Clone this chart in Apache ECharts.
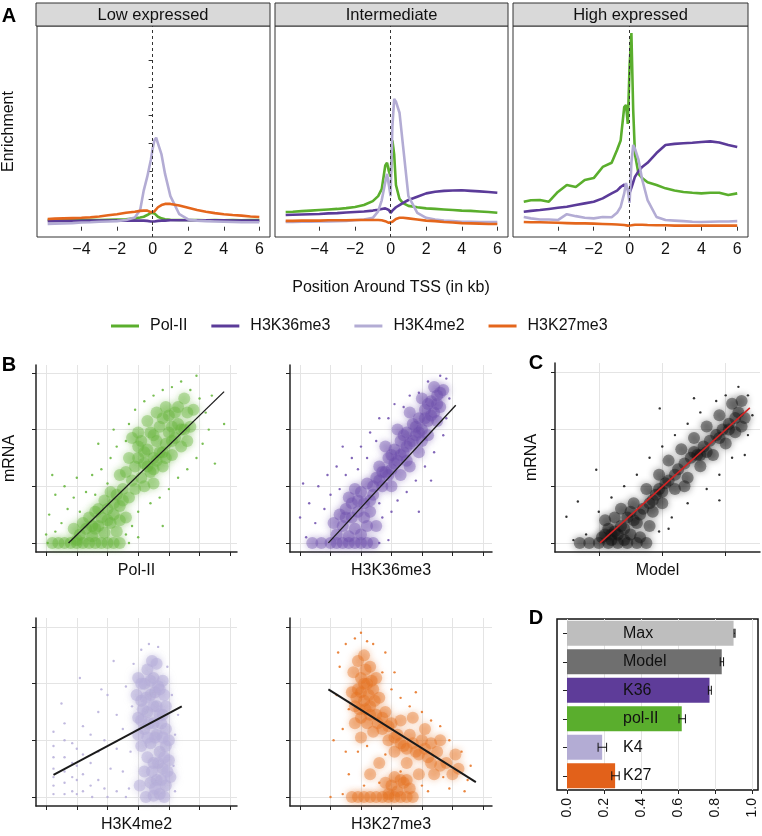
<!DOCTYPE html>
<html><head><meta charset="utf-8">
<script src="https://cdn.jsdelivr.net/npm/echarts@6/dist/echarts.min.js"></script>
<style>html,body{margin:0;padding:0;background:#fff}#c{width:762px;height:836px}</style>
</head><body><div id="c"></div>
<script>
const FONT = "'Liberation Sans', Arial, Helvetica, sans-serif";

// ---------- Panel A: enrichment profiles around the TSS ----------
const panelTitles = ['Low expressed', 'Intermediate', 'High expressed'];
const seriesNames = ['Pol-II', 'H3K36me3', 'H3K4me2', 'H3K27me3'];
const tssX = [-5.9,-5.5,-5,-4.5,-4,-3.5,-3,-2.5,-2,-1.5,-1,-0.7,-0.5,-0.3,-0.2,-0.1,0,0.1,0.2,0.3,0.5,0.7,1,1.5,2,2.5,3,3.5,4,4.5,5,5.5,6];
const tssTicks = [-4,-2,0,2,4,6];
const enrichTicks = [1,2,3,4,5,6];

const polLow = [0.24,0.24,0.25,0.24,0.25,0.25,0.24,0.25,0.26,0.27,0.3,0.33,0.36,0.42,0.46,0.5,0.53,0.48,0.42,0.36,0.3,0.27,0.25,0.24,0.24,0.24,0.23,0.24,0.23,0.24,0.23,0.24,0.24];
const k36Low = [0.2,0.2,0.21,0.21,0.21,0.22,0.22,0.22,0.22,0.22,0.22,0.22,0.22,0.21,0.2,0.19,0.18,0.19,0.2,0.21,0.22,0.22,0.23,0.23,0.23,0.23,0.23,0.23,0.23,0.22,0.22,0.22,0.22];
const k4Low = [0.1,0.11,0.12,0.13,0.15,0.16,0.18,0.19,0.2,0.24,0.33,0.6,1.3,1.8,2.1,2.4,2.8,3.1,3.2,3.0,2.6,1.9,1.1,0.45,0.26,0.22,0.2,0.19,0.18,0.17,0.16,0.16,0.16];
const orgLow = [0.28,0.29,0.3,0.31,0.32,0.34,0.37,0.41,0.45,0.5,0.54,0.57,0.58,0.58,0.55,0.52,0.5,0.55,0.62,0.7,0.78,0.82,0.82,0.76,0.68,0.6,0.54,0.49,0.45,0.42,0.4,0.37,0.35];

const polMid = [0.53,0.54,0.56,0.58,0.6,0.62,0.64,0.67,0.71,0.78,0.92,1.1,1.35,2.2,2.3,2.0,1.8,3.1,2.6,1.5,1.0,0.85,0.75,0.7,0.66,0.64,0.62,0.6,0.58,0.57,0.55,0.53,0.5];
const k36Mid = [0.42,0.43,0.44,0.45,0.46,0.48,0.49,0.51,0.53,0.55,0.58,0.61,0.64,0.66,0.64,0.6,0.5,0.58,0.65,0.7,0.78,0.86,0.96,1.08,1.2,1.26,1.29,1.3,1.31,1.29,1.27,1.25,1.22];
const k4Mid = [0.17,0.17,0.18,0.18,0.19,0.19,0.2,0.21,0.23,0.26,0.32,0.55,0.95,1.6,1.9,1.5,1.1,3.6,4.6,4.5,4.1,2.9,1.1,0.5,0.32,0.26,0.22,0.2,0.18,0.18,0.17,0.17,0.17];
const orgMid = [0.21,0.21,0.22,0.22,0.22,0.23,0.23,0.23,0.24,0.24,0.24,0.24,0.23,0.2,0.17,0.14,0.12,0.18,0.24,0.28,0.32,0.32,0.3,0.26,0.22,0.2,0.17,0.15,0.13,0.12,0.11,0.1,0.1];

const polHigh = [0.9,0.95,0.96,0.9,1.25,1.5,1.43,1.68,1.75,2.15,2.3,2.76,3.1,4.3,4.38,3.7,5.8,6.97,4.2,2.6,1.9,1.75,1.6,1.5,1.38,1.3,1.25,1.22,1.2,1.22,1.22,1.14,1.2];
const k36High = [0.54,0.57,0.6,0.64,0.68,0.72,0.78,0.84,0.9,1.02,1.2,1.3,1.43,1.52,1.5,1.35,1.22,1.4,1.6,1.8,2.0,2.15,2.3,2.65,2.94,2.98,3.0,3.02,3.05,3.07,3.03,2.94,2.87];
const k4High = [0.35,0.3,0.26,0.26,0.24,0.45,0.38,0.32,0.3,0.35,0.34,0.5,0.71,1.2,1.57,1.3,0.86,2.3,2.94,2.8,2.4,1.7,0.96,0.35,0.24,0.22,0.2,0.18,0.17,0.18,0.19,0.19,0.2];
const orgHigh = [0.17,0.16,0.16,0.15,0.14,0.13,0.12,0.12,0.11,0.1,0.09,0.08,0.07,0.06,0.05,0.04,0.03,0.05,0.06,0.07,0.07,0.07,0.06,0.05,0.05,0.04,0.04,0.04,0.04,0.04,0.04,0.04,0.04];

// ---------- Panel B / C: mRNA vs marks (estimated cloud points) ----------
const scatterXTicks = [0,1,2,3,4,5,6];
const scatterYTicks = [0,1,2,3];
const modelXTicks = [0,1,2];

const polCore = [[0.2,0],[0.4,0],[0.6,0],[0.8,0],[1.0,0],[1.2,0],[1.4,0],[1.6,0],[1.8,0],[2.0,0],[2.2,0],[2.4,0],[1.1,0.15],[1.3,0.25],[1.5,0.12],[1.7,0.3],[1.9,0.18],[2.1,0.35],[2.3,0.2],[1.4,0.45],[1.6,0.55],[1.8,0.45],[2.0,0.6],[2.2,0.5],[2.4,0.65],[1.2,0.35],[0.9,0.25],[2.6,0.45],[1.9,0.75],[2.3,0.85],[2.5,0.95],[2.7,0.8],[2.8,1.1],[2.6,1.25],[2.9,1.35],[3.1,1.15],[3.0,1.5],[3.2,1.4],[3.3,1.65],[3.1,1.8],[3.4,1.25],[3.5,1.5],[3.6,1.8],[3.4,1.95],[3.7,1.6],[3.8,1.35],[3.9,1.75],[3.7,2.05],[4.0,1.95],[4.1,1.55],[4.2,1.85],[4.0,2.25],[4.3,2.1],[4.4,1.7],[4.5,2.0],[4.3,2.4],[4.6,2.3],[4.7,2.05],[3.3,2.15],[3.0,1.95],[3.6,2.3],[2.9,0.95],[3.2,1.0],[4.8,2.35],[4.5,2.55],[3.9,2.4],[2.4,1.2],[3.5,1.05],[1.0,0.05],[1.5,0.3],[1.7,0.6],[2.1,0.9],[2.5,0.75],[2.7,1.5],[2.8,1.85],[3.0,1.7],[3.2,1.6],[3.3,1.35],[3.5,1.3],[3.5,1.9],[3.6,1.45],[3.8,1.6],[3.8,2.2],[4.1,2.05],[4.2,2.3],[4.4,2.0],[4.6,1.8],[4.1,1.8],[3.9,1.5],[2.2,0.7],[2.0,0.4],[1.6,0.25],[2.4,0.4]];
const polSpread = [[0.0,0.15],[0.1,0.5],[0.3,0.85],[0.2,1.2],[0.5,0.35],[0.7,0.6],[0.6,1.0],[0.9,0.8],[1.0,1.15],[1.1,0.55],[1.3,0.9],[1.5,1.2],[1.6,0.85],[1.8,1.3],[2.0,1.05],[2.1,1.5],[2.3,1.7],[2.2,2.0],[2.6,1.8],[2.7,2.1],[2.9,2.35],[3.2,2.5],[3.5,2.6],[3.8,2.7],[4.1,2.75],[4.4,2.85],[4.7,2.7],[5.0,2.55],[5.2,2.3],[5.3,2.0],[5.1,1.75],[4.9,1.5],[4.6,1.3],[4.3,1.15],[4.0,0.95],[3.7,0.8],[3.4,0.7],[3.0,0.55],[2.8,0.3],[2.6,0.15],[2.7,0.0],[3.0,0.1],[5.5,1.4],[5.8,2.1],[4.9,2.95],[0.05,0.0],[0.3,0.2],[1.7,1.75],[5.4,2.6],[3.8,0.3]];
const polFit = [[0.73,0],[5.8,2.67]];

const k36Core = [[0.4,0],[0.7,0],[1.0,0],[1.2,0],[1.4,0],[1.6,0],[1.8,0],[2.0,0],[2.2,0],[2.4,0],[1.2,0.15],[1.4,0.3],[1.6,0.12],[1.8,0.25],[2.0,0.15],[2.2,0.3],[1.3,0.5],[1.5,0.6],[1.7,0.45],[1.9,0.55],[2.1,0.7],[2.3,0.55],[1.6,0.8],[1.8,0.95],[2.0,0.9],[2.2,1.05],[2.4,0.85],[1.1,0.35],[2.5,0.3],[2.5,1.15],[2.7,1.0],[2.6,1.35],[2.8,1.25],[2.9,1.5],[3.0,1.3],[3.1,1.65],[3.2,1.45],[3.3,1.8],[3.4,1.6],[3.5,1.95],[3.6,1.75],[3.7,2.1],[3.8,1.9],[3.9,2.2],[4.0,2.0],[4.1,2.35],[4.2,2.15],[4.3,2.5],[4.4,2.3],[4.5,2.6],[4.6,2.4],[4.7,2.7],[4.5,2.15],[4.2,1.9],[3.9,1.6],[3.6,1.35],[3.3,1.2],[3.0,1.0],[2.8,1.7],[3.2,2.0],[3.6,2.3],[4.0,2.55],[4.4,2.75],[1.5,0.45],[1.7,0.7],[1.9,0.75],[2.1,0.45],[2.3,0.75],[2.4,1.0],[2.6,1.1],[2.7,1.25],[2.9,1.2],[3.0,1.55],[3.1,1.4],[3.3,1.55],[3.4,1.9],[3.5,1.7],[3.7,1.8],[3.8,2.05],[3.9,1.95],[4.1,2.2],[4.2,2.45],[4.3,2.25],[4.5,2.45],[4.6,2.65],[3.5,1.45],[4.0,1.8]];
const k36Spread = [[0.0,0.45],[0.2,0.1],[0.3,0.7],[0.5,0.35],[0.6,1.0],[0.8,0.6],[0.9,1.2],[1.0,0.85],[1.2,1.35],[1.3,0.95],[1.5,1.2],[1.7,1.5],[1.9,1.3],[2.0,1.7],[2.2,1.5],[2.3,1.95],[2.5,1.8],[2.6,2.2],[2.9,2.2],[3.1,2.45],[3.4,2.4],[3.6,2.6],[3.9,2.65],[4.2,2.85],[4.6,2.95],[4.8,2.9],[4.9,2.55],[4.8,2.2],[4.7,1.9],[4.4,1.6],[4.1,1.35],[3.8,1.1],[3.5,0.9],[3.2,0.75],[3.0,0.55],[2.7,0.45],[2.6,0.7],[3.9,0.55],[2.9,0.05],[2.6,0.0],[0.1,1.05],[4.3,1.1],[1.4,1.7]];
const k36Fit = [[0.93,0],[5.11,2.43]];

const k4Core = [[3.0,1.4],[3.1,1.7],[3.2,2.0],[3.3,1.5],[3.4,1.8],[3.5,2.1],[3.6,1.6],[3.7,1.9],[3.3,2.25],[3.5,1.3],[3.8,1.45],[3.2,1.2],[3.6,1.1],[3.9,1.2],[3.4,0.95],[3.7,0.8],[3.9,0.9],[3.5,0.6],[3.8,0.5],[4.0,0.65],[3.6,0.3],[3.9,0.2],[3.4,0.25],[3.7,0.05],[3.1,0.9],[2.95,1.8],[3.0,2.1],[3.8,2.05],[3.45,2.4],[3.6,2.35],[3.2,0.45],[4.0,1.0],[3.0,1.1],[3.5,0.02],[3.25,0.0],[3.85,0.0],[3.3,0.7],[3.75,1.3],[3.15,1.55],[3.55,1.85],[3.9,1.6],[4.05,0.35],[3.05,0.2],[3.1,1.35],[3.25,1.75],[3.4,2.05],[3.5,1.6],[3.65,1.95],[3.7,1.45],[3.35,1.3],[3.55,1.05],[3.8,1.05],[3.65,0.6],[3.85,0.7],[3.45,0.45],[3.75,0.3],[3.55,0.15],[3.95,0.45],[3.3,1.05],[3.85,1.8],[3.1,2.0]];
const k4Spread = [[0.24,0.05],[0.24,0.2],[0.24,0.35],[0.24,0.5],[0.24,0.7],[0.24,0.9],[0.24,1.15],[0.6,0.05],[0.6,0.25],[0.6,0.45],[0.6,0.7],[0.6,1.0],[0.6,1.3],[0.85,0.1],[0.85,0.35],[0.85,0.6],[0.85,0.95],[1.0,0.05],[1.0,0.3],[1.0,0.55],[1.0,0.85],[1.2,0.1],[1.2,0.4],[1.2,0.75],[1.2,1.25],[1.45,0.2],[1.45,0.6],[1.45,1.1],[1.7,0.3],[1.7,0.8],[1.7,1.5],[1.9,0.15],[1.9,1.0],[2.0,1.8],[2.1,0.5],[2.3,0.1],[2.3,0.85],[2.3,1.45],[2.5,0.45],[2.5,1.2],[2.6,1.95],[2.7,0.15],[2.75,0.8],[2.8,1.6],[2.85,2.35],[3.1,2.6],[3.35,2.7],[3.65,2.65],[3.95,2.3],[4.1,1.8],[4.2,1.1],[4.15,0.55],[4.2,0.1],[1.8,1.9],[0.5,1.65],[1.1,2.1],[2.2,2.4],[4.3,1.45],[2.0,0.0],[1.5,0.0],[2.6,0.0]];
const k4Fit = [[0.24,0.39],[4.42,1.6]];

const k27Core = [[1.8,1.6],[1.9,1.9],[2.0,2.1],[2.1,1.7],[2.2,2.0],[2.3,1.6],[2.4,1.9],[2.0,1.4],[2.2,1.3],[2.5,1.45],[2.6,1.75],[1.75,2.2],[1.9,2.4],[2.1,2.5],[2.3,2.3],[1.8,1.3],[2.4,1.15],[2.7,1.2],[2.8,1.5],[3.0,1.3],[3.2,1.1],[2.9,1.0],[3.1,0.8],[3.4,0.9],[3.6,1.1],[3.8,0.8],[3.5,0.6],[4.0,1.0],[4.2,0.7],[4.5,0.8],[4.8,0.6],[5.0,0.4],[5.2,0.5],[3.0,0.2],[3.2,0.1],[3.4,0.25],[2.9,0.05],[3.6,0.15],[4.4,0.4],[3.9,0.4],[2.6,0.6],[2.3,0.4],[2.0,1.05],[1.7,1.85],[2.5,2.1],[1.7,0],[1.9,0],[2.1,0],[2.3,0],[2.5,0],[2.7,0],[2.9,0],[3.1,0],[3.3,0],[3.5,0],[3.7,0],[3.3,1.35],[3.7,1.4],[4.1,1.2],[4.6,1.0],[5.1,0.75],[4.3,0.95],[1.85,1.75],[2.0,1.85],[2.15,1.55],[2.25,1.8],[2.35,2.05],[2.45,1.7],[2.1,2.0],[1.95,1.55],[2.3,1.45],[2.55,1.3],[2.7,1.4],[2.9,1.25],[3.1,1.05],[3.3,0.95],[3.5,0.85],[3.7,0.95],[3.9,0.75],[4.1,0.85],[4.3,0.6],[4.6,0.55],[3.1,0.35],[3.3,0.3],[2.8,0.25],[3.5,0.3],[2.15,2.25]];
const k27Spread = [[1.5,2.7],[1.8,2.8],[2.0,2.9],[2.4,2.7],[1.3,2.3],[1.2,1.8],[1.4,1.2],[1.5,0.8],[1.6,0.4],[1.9,0.8],[2.2,0.9],[2.7,2.2],[3.0,1.9],[3.3,1.75],[3.6,1.6],[4.0,1.5],[4.3,1.35],[4.6,1.25],[4.9,1.0],[5.3,0.8],[5.5,0.3],[5.4,0.1],[4.9,0.15],[4.2,0.1],[1.4,0.05],[2.6,0.25],[1.0,0.0],[3.8,1.85],[2.8,2.55],[1.1,1.0],[1.6,1.55],[2.1,0.2],[2.8,0.75],[3.3,0.45],[4.0,0.2],[4.7,0.35],[5.6,0.55],[1.25,2.55],[2.2,2.75],[3.1,2.2]];
const k27Fit = [[0.93,1.9],[5.77,0.26]];

const modelCore = [[-0.3,0],[-0.15,0],[0.0,0],[0.15,0],[0.3,0],[0.45,0],[0.6,0],[0.75,0],[0.05,0.1],[0.2,0.05],[0.3,0.15],[0.15,0.25],[0.35,0.3],[0.5,0.15],[0.45,0.45],[0.6,0.35],[0.25,0.45],[0.65,0.1],[0.1,0.4],[0.8,0.3],[0.7,0.6],[0.55,0.7],[0.85,0.55],[0.9,0.85],[0.75,0.95],[1.0,0.7],[1.05,1.05],[0.95,1.2],[1.2,0.95],[1.25,1.3],[1.1,1.45],[1.4,1.15],[1.45,1.5],[1.3,1.65],[1.6,1.35],[1.65,1.7],[1.5,1.85],[1.8,1.55],[1.85,1.9],[1.7,2.05],[2.0,1.75],[2.05,2.1],[1.9,2.25],[2.15,1.95],[2.2,2.3],[2.1,2.45],[2.3,2.2],[0.35,0.6],[0.4,0.05],[1.35,1.0],[1.55,1.55],[1.95,2.0],[2.25,2.5],[0.1,0.15],[0.25,0.2],[0.4,0.25],[0.55,0.4],[0.65,0.5],[0.8,0.7],[0.95,0.95],[1.1,1.1],[1.2,1.2],[1.35,1.4],[1.5,1.6],[1.6,1.55],[1.75,1.8],[1.9,1.85],[2.05,2.0],[2.15,2.2],[1.0,0.9],[0.85,0.75],[0.5,0.55],[0.2,0.15],[1.7,1.6],[2.25,2.05]];
const modelSpread = [[-0.51,0.46],[-0.33,0.73],[-0.04,1.29],[0.96,2.37],[0.2,0.8],[0.4,1.0],[0.6,1.2],[0.8,1.5],[1.0,1.7],[1.2,1.9],[1.4,2.1],[1.6,2.3],[1.85,2.5],[2.2,2.75],[2.35,2.6],[2.42,2.25],[2.35,1.9],[2.1,1.5],[1.9,1.2],[1.7,0.95],[1.4,0.7],[1.15,0.45],[0.95,0.2],[-0.2,0.15],[-0.4,0.05],[1.9,0.75],[1.5,2.55],[2.0,2.6],[0.0,0.55],[1.1,0.25],[2.3,1.55]];
const modelFit = [[0.02,0],[2.38,2.38]];

// ---------- Panel D: variance explained ----------
const dCats = ['Max', 'Model', 'K36', 'pol-II', 'K4', 'K27'];
const dValues = [0.90, 0.836, 0.77, 0.62, 0.19, 0.26];
const dErrLow = [0.902, 0.828, 0.764, 0.605, 0.168, 0.242];
const dErrHigh = [0.908, 0.846, 0.78, 0.64, 0.214, 0.282];
const dTicks = [0, 0.2, 0.4, 0.6, 0.8, 1.0];

// ---------- styles / layout ----------
const lineColors = ['#5aae2d', '#5b3b99', '#b3acd4', '#e4661c'];
const dColors = ['#bebebe', '#6f6f6f', '#5e3c99', '#5aae2d', '#b3acd4', '#e2611a'];
const gridsA = [
  {left: 36, top: 26, width: 234, height: 211},
  {left: 275, top: 26, width: 233, height: 211},
  {left: 513, top: 26, width: 235, height: 211}
];
const gridsB = [
  {left: 36, top: 365, width: 201, height: 187},
  {left: 290, top: 365, width: 202, height: 187},
  {left: 36, top: 618, width: 201, height: 188},
  {left: 290, top: 618, width: 202, height: 188}
];
const gridC = {left: 555, top: 363, width: 205, height: 189};
const gridD = {left: 557, top: 619, width: 201, height: 171, show: true, borderColor: '#111', borderWidth: 1.5};

const grid = [];
const xAxis = [];
const yAxis = [];
const series = [];

gridsA.forEach((g, p) => {
  grid.push(Object.assign({show: true, borderColor: '#333', borderWidth: 1}, g));
  xAxis.push({
    gridIndex: p, type: 'value', min: -6.5, max: 6.6,
    axisLine: {show: false},
    axisTick: {show: true, length: 4, customValues: tssTicks, lineStyle: {color: '#333'}},
    axisLabel: {show: true, customValues: tssTicks, margin: 5, fontSize: 16, color: '#111', fontFamily: FONT,
      formatter: v => String(v).replace('-', '\u2212')},
    splitLine: {show: false}
  });
  yAxis.push({
    gridIndex: p, type: 'value', min: -0.37, max: 7.22,
    axisLine: {show: false},
    axisTick: {show: p === 0, length: 4, customValues: enrichTicks, lineStyle: {color: '#333'}},
    axisLabel: {show: false},
    splitLine: {show: false},
    name: p === 0 ? 'Enrichment' : '', nameLocation: 'middle', nameGap: 20,
    nameTextStyle: {fontSize: 16, color: '#111', fontFamily: FONT}
  });
});

const profiles = [[polLow, k36Low, k4Low, orgLow], [polMid, k36Mid, k4Mid, orgMid], [polHigh, k36High, k4High, orgHigh]];
profiles.forEach((set, p) => {
  set.forEach((arr, s) => {
    const sr = {
      type: 'line', name: seriesNames[s], xAxisIndex: p, yAxisIndex: p,
      data: tssX.map((x, i) => [x, arr[i]]),
      showSymbol: false, symbol: 'none', silent: true,
      lineStyle: {width: 2.6, color: lineColors[s]}, itemStyle: {color: lineColors[s]}
    };
    if (s === 3) {
      sr.markLine = {silent: true, symbol: 'none', label: {show: false},
        lineStyle: {type: [3, 3], color: '#333', width: 1}, data: [{xAxis: 0}]};
    }
    series.push(sr);
  });
});

const scatterDefs = [
  {core: polCore, spread: polSpread, fit: polFit, color: '#63b437', op: 0.38, xr: [-0.33, 6.22], yr: [-0.16, 3.14], xname: 'Pol-II', yname: 'mRNA', fitW: 1.3},
  {core: k36Core, spread: k36Spread, fit: k36Fit, color: '#6c4cab', op: 0.38, xr: [-0.33, 6.3], yr: [-0.16, 3.14], xname: 'H3K36me3', yname: '', fitW: 1.3},
  {core: k4Core, spread: k4Spread, fit: k4Fit, color: '#b6aed9', op: 0.5, xr: [-0.33, 6.22], yr: [-0.16, 3.16], xname: 'H3K4me2', yname: '', fitW: 2},
  {core: k27Core, spread: k27Spread, fit: k27Fit, color: '#e6711f', op: 0.38, xr: [-0.33, 6.3], yr: [-0.16, 3.16], xname: 'H3K27me3', yname: '', fitW: 2}
];

function scatterAxes(gi, xr, yr, xticks, xname, yname, yGap) {
  xAxis.push({
    gridIndex: gi, type: 'value', min: xr[0], max: xr[1],
    axisLine: {show: true, onZero: false, lineStyle: {color: '#222', width: 1.5}},
    axisTick: {show: true, length: 4, customValues: xticks, lineStyle: {color: '#222'}},
    axisLabel: {show: false},
    splitLine: {show: true, lineStyle: {color: '#e4e4e4', width: 1}},
    name: xname, nameLocation: 'middle', nameGap: 11,
    nameTextStyle: {fontSize: 16, color: '#111', fontFamily: FONT, verticalAlign: 'top'}
  });
  yAxis.push({
    gridIndex: gi, type: 'value', min: yr[0], max: yr[1],
    axisLine: {show: true, onZero: false, lineStyle: {color: '#222', width: 1.5}},
    axisTick: {show: true, length: 4, customValues: scatterYTicks, lineStyle: {color: '#222'}},
    axisLabel: {show: false},
    splitLine: {show: true, lineStyle: {color: '#e4e4e4', width: 1}},
    name: yname, nameLocation: 'middle', nameGap: yGap,
    nameTextStyle: {fontSize: 16, color: '#111', fontFamily: FONT}
  });
}

function cloud(gi, def, coreSize) {
  series.push({type: 'scatter', name: 'core' + gi, xAxisIndex: gi, yAxisIndex: gi, data: def.core,
    symbolSize: coreSize, silent: true,
    itemStyle: {color: def.color, opacity: def.op, shadowBlur: 7, shadowColor: def.color}});
  series.push({type: 'scatter', name: 'cloud' + gi, xAxisIndex: gi, yAxisIndex: gi, data: def.spread,
    symbolSize: 2.4, silent: true, itemStyle: {color: def.color, opacity: 0.85}});
  series.push({type: 'line', name: 'fit' + gi, xAxisIndex: gi, yAxisIndex: gi, data: def.fit,
    symbol: 'none', silent: true, z: 5, lineStyle: {color: def.fitColor || '#1a1a1a', width: def.fitW}});
}

gridsB.forEach((g, k) => {
  const gi = 3 + k;
  const d = scatterDefs[k];
  grid.push(Object.assign({}, g));
  scatterAxes(gi, d.xr, d.yr, scatterXTicks, d.xname, d.yname, 18);
  cloud(gi, d, 12);
});

// C
grid.push(Object.assign({}, gridC));
scatterAxes(7, [-0.69, 2.54], [-0.16, 3.17], modelXTicks, 'Model', 'mRNA', 15);
cloud(7, {core: modelCore, spread: modelSpread, fit: modelFit, color: '#111', op: 0.42, fitColor: '#d42424', fitW: 1.6}, 12);

// D
grid.push(Object.assign({}, gridD));
xAxis.push({
  gridIndex: 8, type: 'value', min: -0.054, max: 1.032,
  axisLine: {show: false},
  axisTick: {show: true, length: 4, customValues: dTicks, lineStyle: {color: '#222'}},
  axisLabel: {show: true, customValues: dTicks, rotate: 90, margin: 8, fontSize: 14, color: '#111', fontFamily: FONT,
    formatter: v => v.toFixed(1)},
  splitLine: {show: true, lineStyle: {color: '#e4e4e4'}}
});
yAxis.push({
  gridIndex: 8, type: 'category', data: dCats, inverse: true,
  axisLine: {show: false},
  axisTick: {show: true, length: 4, alignWithLabel: true, lineStyle: {color: '#222'}},
  axisLabel: {show: false},
  splitLine: {show: false}
});
series.push({
  type: 'bar', name: 'r2', xAxisIndex: 8, yAxisIndex: 8, barWidth: '88%', silent: true,
  data: dValues.map((v, i) => ({value: v, itemStyle: {color: dColors[i]}})),
  label: {show: true, position: [56, '50%'], verticalAlign: 'middle', formatter: p => p.name,
    fontSize: 16, color: '#111', fontFamily: FONT}
});
series.push({
  type: 'custom', name: 'err', xAxisIndex: 8, yAxisIndex: 8, silent: true, z: 10,
  data: dCats.map((c, i) => [dErrLow[i], dErrHigh[i], i]),
  encode: {x: [0, 1], y: 2},
  renderItem: function (params, api) {
    const lo = api.coord([api.value(0), api.value(2)]);
    const hi = api.coord([api.value(1), api.value(2)]);
    const h = 4.5;
    const st = {stroke: '#111', lineWidth: 1};
    return {type: 'group', children: [
      {type: 'line', shape: {x1: lo[0], y1: lo[1], x2: hi[0], y2: hi[1]}, style: st},
      {type: 'line', shape: {x1: lo[0], y1: lo[1] - h, x2: lo[0], y2: lo[1] + h}, style: st},
      {type: 'line', shape: {x1: hi[0], y1: hi[1] - h, x2: hi[0], y2: hi[1] + h}, style: st}
    ]};
  }
});

// ---------- text decorations ----------
const graphic = [];
gridsA.forEach((g, p) => {
  graphic.push({type: 'rect', shape: {x: g.left, y: 3, width: g.width, height: 23},
    style: {fill: '#d9d9d9', stroke: '#333', lineWidth: 1}, silent: true});
  graphic.push({type: 'text', x: g.left + g.width / 2, y: 15,
    style: {text: panelTitles[p], fontSize: 16.5, fontFamily: FONT, fill: '#111',
      align: 'center', verticalAlign: 'middle', textAlign: 'center', textVerticalAlign: 'middle'}, silent: true});
});
[['A', 9, 16], ['B', 9, 365], ['C', 536, 363], ['D', 536, 618]].forEach(t => {
  graphic.push({type: 'text', x: t[1], y: t[2],
    style: {text: t[0], fontSize: 20, fontWeight: 'bold', fontFamily: FONT, fill: '#000',
      align: 'center', verticalAlign: 'middle', textAlign: 'center', textVerticalAlign: 'middle'}, silent: true});
});
graphic.push({type: 'text', x: 391, y: 288,
  style: {text: 'Position Around TSS (in kb)', fontSize: 16, fontFamily: FONT, fill: '#111',
    align: 'center', verticalAlign: 'middle', textAlign: 'center', textVerticalAlign: 'middle'}, silent: true});

const chart = echarts.init(document.getElementById('c'), null, {renderer: 'canvas'});
chart.setOption({
  animation: false,
  backgroundColor: '#fff',
  textStyle: {fontFamily: FONT},
  grid, xAxis, yAxis, series, graphic,
  legend: {
    data: seriesNames, left: 106, top: 313, icon: 'rect', itemWidth: 28, itemHeight: 3, itemGap: 24,
    selectedMode: false,
    textStyle: {fontSize: 16, color: '#111', fontFamily: FONT, padding: [0, 0, 0, 6]}
  }
});
</script>
</body></html>
